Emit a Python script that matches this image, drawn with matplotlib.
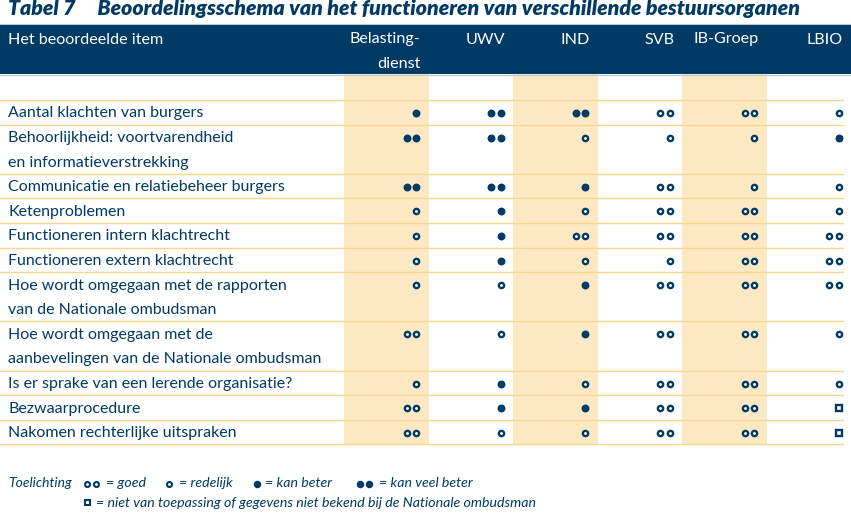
import matplotlib
matplotlib.use("Agg")
import matplotlib.pyplot as plt
from matplotlib.patches import Rectangle

# ---------------- data ----------------
title = "Tabel 7     Beoordelingsschema van het functioneren van verschillende bestuursorganen"
first_header = "Het beoordeelde item"
columns = ["Belasting-\ndienst", "UWV", "IND", "SVB", "IB-Groep", "LBIO"]
items = [
    "Aantal klachten van burgers",
    "Behoorlijkheid: voortvarendheid\nen informatieverstrekking",
    "Communicatie en relatiebeheer burgers",
    "Ketenproblemen",
    "Functioneren intern klachtrecht",
    "Functioneren extern klachtrecht",
    "Hoe wordt omgegaan met de rapporten\nvan de Nationale ombudsman",
    "Hoe wordt omgegaan met de\naanbevelingen van de Nationale ombudsman",
    "Is er sprake van een lerende organisatie?",
    "Bezwaarprocedure",
    "Nakomen rechterlijke uitspraken",
]
# G = goed, R = redelijk, K = kan beter, V = kan veel beter, N = niet van toepassing
belastingdienst = ["K", "V", "V", "R", "R", "R", "R", "G", "R", "G", "G"]
uwv             = ["V", "V", "V", "K", "K", "K", "R", "R", "K", "K", "R"]
ind             = ["V", "R", "K", "R", "G", "R", "K", "K", "R", "K", "R"]
svb             = ["G", "R", "G", "G", "G", "R", "G", "G", "G", "G", "G"]
ib_groep        = ["G", "R", "R", "G", "G", "G", "G", "G", "G", "G", "G"]
lbio            = ["R", "K", "R", "R", "G", "G", "G", "R", "R", "N", "N"]
ratings = [belastingdienst, uwv, ind, svb, ib_groep, lbio]

legend_line1 = [("G", "= goed"), ("R", "= redelijk"), ("K", "= kan beter"), ("V", "= kan veel beter")]
legend_line2 = [("N", "= niet van toepassing of gegevens niet bekend bij de Nationale ombudsman")]
legend_label = "Toelichting"

# ---------------- style ----------------
NAVY = "#003a65"
SHADE = "#fde8c4"
LINE = "#f8d68e"
FONT = "Lato"

W, H = 851, 516
fig = plt.figure(figsize=(W / 100, H / 100), dpi=100)
ax = fig.add_axes([0, 0, 1, 1])
ax.set_xlim(0, W)
ax.set_ylim(H, 0)
ax.axis("off")

# layout
col_left0 = 344
col_w = 84.5
band_top, band_bot = 24, 74
table_top = 100
line_h = 24.6
col_rights = [col_left0 + col_w * (i + 1) for i in range(len(columns))]

# row geometry
row_tops = []
y = table_top
for it in items:
    row_tops.append(y)
    y += line_h * (it.count("\n") + 1)
table_bot = y

# shaded columns
for i in (0, 2, 4):
    ax.add_patch(Rectangle((col_left0 + col_w * i, band_bot), col_w, table_bot - band_bot,
                           facecolor=SHADE, edgecolor="none", zorder=0))

# header band
ax.add_patch(Rectangle((0, band_top), W, band_bot - band_top, facecolor=NAVY,
                       edgecolor="none", zorder=1))
ax.plot([0, W], [band_top - 0.5, band_top - 0.5], color="#b9c7d6", lw=0.8, zorder=2)
ax.plot([0, W], [band_bot + 0.5, band_bot + 0.5], color="#b9c7d6", lw=0.8, zorder=2)

# title
ax.text(8, 15.5, title, fontsize=15.3, fontweight="heavy", fontstyle="italic",
        color=NAVY, family=FONT, va="baseline", ha="left")

# header text
ax.text(8, 43.5, first_header, fontsize=11.6, color="white", family=FONT, va="baseline")
for c, r in zip(columns, col_rights):
    for k, part in enumerate(c.split("\n")):
        ax.text(r - 8, 43.5 + 24 * k, part, fontsize=11.6, color="white", family=FONT,
                va="baseline", ha="right")

# horizontal lines
for yy in [table_top] + [t + line_h * (it.count("\n") + 1) for t, it in zip(row_tops, items)]:
    ax.plot([0, 843], [yy, yy], color=LINE, lw=1.0, zorder=2)

# item text
for t, it in zip(row_tops, items):
    for k, part in enumerate(it.split("\n")):
        ax.text(8, t + 17.5 + line_h * k, part, fontsize=11.5, color=NAVY, family=FONT,
                va="baseline", ha="left")


def draw_symbol(x_right, yc, code, ms_fill, ms_open, mew, gap):
    if code in ("G", "V"):
        xs = [x_right - gap, x_right]
    else:
        xs = [x_right]
    ys = [yc] * len(xs)
    if code in ("K", "V"):
        ax.plot(xs, ys, "o", ms=ms_fill, mfc=NAVY, mec=NAVY, mew=0, zorder=3)
    elif code in ("G", "R"):
        ax.plot(xs, ys, "o", ms=ms_open, mfc="white", mec=NAVY, mew=mew, zorder=3)
    else:
        ax.plot(xs, ys, "s", ms=ms_open, mfc="white", mec=NAVY, mew=mew, zorder=3)


# rating symbols
for r, col in zip(col_rights, ratings):
    for t, code in zip(row_tops, col):
        draw_symbol(r - 12.5, t + 13, code, 5.7, 3.8, 1.7, 9.5)

# legend
ax.text(8.5, 487, legend_label, fontsize=10, fontstyle="italic", color=NAVY, family=FONT,
        va="baseline")
sym_positions = [96, 169, 257, 369]
text_positions = [106, 179, 265, 379]
for (code, lab), xs, xt in zip(legend_line1, sym_positions, text_positions):
    draw_symbol(xs, 484, code, 5.4, 3.6, 1.5, 9)
    ax.text(xt, 487, lab, fontsize=10.2, fontstyle="italic", color=NAVY, family=FONT,
            va="baseline")
for code, lab in legend_line2:
    draw_symbol(87, 502, code, 5.4, 3.6, 1.5, 9)
    ax.text(96, 507, lab, fontsize=10.2, fontstyle="italic", color=NAVY, family=FONT,
            va="baseline")

fig.savefig("out.png", dpi=100)
